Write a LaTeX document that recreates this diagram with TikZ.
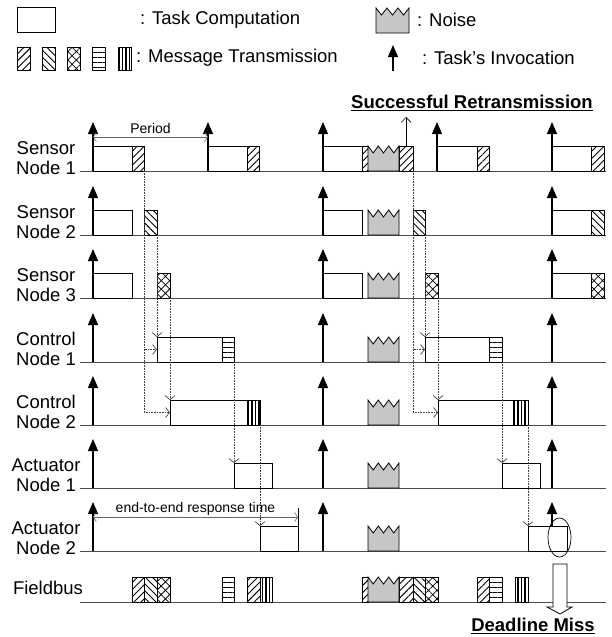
\documentclass[tikz,border=0pt]{standalone}
\usepackage{fontspec}
\setmainfont{Liberation Sans}
\usetikzlibrary{arrows.meta,patterns.meta}

\begin{document}
\begin{tikzpicture}[x=1pt, y=-1pt,
  every node/.style={font=\fontsize{18.5}{20}\selectfont},
  smalltext/.style={font=\fontsize{14}{16}\selectfont},
  axis/.style={draw=black!70, line width=0.9pt},
  tbox/.style={draw, line width=0.8pt, fill=white, inner sep=0pt, outer sep=0pt, anchor=south west, minimum height=25pt, minimum width=#1},
  hatchA/.style={pattern={Lines[angle=45,distance=5pt,line width=0.9pt]}},
  hatchB/.style={pattern={Lines[angle=-45,distance=5pt,line width=0.9pt]}},
  hatchC/.style={pattern={Hatch[angle=45,distance=6pt,line width=0.8pt]}},
  hatchD/.style={pattern={Lines[angle=0,distance=5pt,line width=0.9pt]}},
  hatchE/.style={pattern={Lines[angle=90,distance=3.5pt,line width=1.1pt]}},
  noise/.style={draw, line width=0.8pt, fill=gray!45},
  invoke/.style={-{Triangle[length=12pt,width=10pt]}, line width=1.2pt},
  flow/.style={densely dotted, draw=black!75, line width=0.6pt, -{Straight Barb[length=4pt,width=10pt,line width=0.7pt]}},
  span/.style={draw=black!60, line width=0.6pt, {Straight Barb[length=3pt,width=9pt]}-{Straight Barb[length=3pt,width=9pt]}}]
  \useasboundingbox (0,0) rectangle (612,637);

  % legend
  \node[tbox=38pt] (leg-task) at (17,32) {};
  \node[anchor=west, inner sep=0pt] (leg-task-txt) at (140,20) {: Task Computation};
  \draw[noise] (376,33) -- (376,8) -- (381.5,15) -- (387,8) -- (392.5,15) -- (398,8) -- (403.5,15) -- (409,8) -- (409,33) -- cycle;
  \node[anchor=west, inner sep=0pt] (leg-noise-txt) at (417,20) {: Noise};
  \foreach \x/\st [count=\i] in {17/hatchA, 42/hatchB, 67/hatchC, 92/hatchD, 118/hatchE}
    \node[tbox=13pt, minimum height=23pt, \st] (leg-m\i) at (\x,70) {};
  \node[anchor=west, inner sep=0pt] (leg-msg-txt) at (136,58) {: Message Transmission};
  \coordinate (leg-inv-a) at (393,71);
  \coordinate (leg-inv-b) at (393,45);
  \draw[invoke] (leg-inv-a) -- (leg-inv-b);
  \node[anchor=west, inner sep=0pt] (leg-inv-txt) at (422,58) {: Task's Invocation};

  % time lines
  \foreach \nm/\y/\lbl in {s1/171/Sensor\\Node 1, s2/235/Sensor\\Node 2, s3/298/Sensor\\Node 3,
      c1/362/Control\\Node 1, c2/425/Control\\Node 2, a1/488/Actuator\\Node 1, a2/551/Actuator\\Node 2}{
    \draw[axis] (80,\y) -- (606,\y);
    \node[align=center] (lbl-\nm) at (46,\y-13) {\lbl};
    \foreach \x in {93,323,552}
      \draw[invoke] (\x,\y) -- (\x,\y-49);
  }
  \foreach \x in {208,437}
    \draw[invoke] (\x,171) -- (\x,122);
  \draw[axis] (80,602) -- (606,602);
  \node (lbl-fb) at (48,588) {Fieldbus};

  % tasks
  \foreach \nm/\x/\y/\w in {s1t1/93/171/39, s1t2/208/171/39, s1t3/323/171/39, s1t4/437/171/40, s1t5/552/171/39,
      s2t1/93/235/39, s2t3/323/235/39, s2t5/552/235/39, s3t1/93/298/39, s3t3/323/298/39, s3t5/552/298/39,
      c1t1/157/362/65, c1t3/425/362/64, c2t1/170/425/77, c2t3/438/425/75,
      a1t1/234/488/38, a1t3/502/488/38, a2t1/260/551/38, a2t3/528/551/39}
    \node[tbox=\w pt] (\nm) at (\x,\y) {};

  % messages
  \foreach \nm/\x/\y/\w/\st in {s1m1/132/171/12/hatchA, s1m2/247/171/12/hatchA, s1m3/362/171/6/hatchA,
      s1m4/399/171/14/hatchA, s1m5/477/171/12/hatchA, s1m6/591/171/13/hatchA,
      s2m1/144/235/13/hatchB, s2m4/413/235/12/hatchB, s2m6/591/235/13/hatchB,
      s3m1/157/298/13/hatchC, s3m4/425/298/13/hatchC, s3m6/591/298/13/hatchC,
      c1m1/222/362/12/hatchD, c1m4/489/362/13/hatchD, c2m1/247/425/13/hatchE, c2m4/513/425/15/hatchE,
      fb1/132/602/12/hatchA, fb2/144/602/13/hatchB, fb3/157/602/13/hatchC, fb4/222/602/12/hatchD,
      fb5/247/602/13/hatchA, fb6/260/602/12/hatchE, fb7/362/602/6/hatchA, fb8/399/602/14/hatchA,
      fb9/413/602/12/hatchB, fb10/425/602/13/hatchC, fb11/477/602/12/hatchA, fb12/489/602/13/hatchD,
      fb13/515/602/13/hatchE}
    \node[tbox=\w pt, \st] (\nm) at (\x,\y) {};

  % noise
  \foreach \y in {171,235,298,362,425,488,551,602}
    \draw[noise] (368,\y) -- (368,\y-25) -- (373.2,\y-18) -- (378.3,\y-25) -- (383.5,\y-18)
      -- (388.7,\y-25) -- (393.8,\y-18) -- (399,\y-25) -- (399,\y) -- cycle;

  % message flow
  \draw[flow] (s1m1.south east) |- (c1t1.west);
  \draw[flow] (s1m1.south east) |- (c2t1.west);
  \draw[flow] (s2m1.south east) -- (c1t1.north west);
  \draw[flow] (s3m1.south east) -- (c2t1.north west);
  \draw[flow] (c1m1.south east) -- (a1t1.north west);
  \draw[flow] (c2m1.south east) -- (a2t1.north west);
  \draw[flow] (s1m4.south east) |- (c1t3.west);
  \draw[flow] (s1m4.south east) |- (c2t3.west);
  \draw[flow] (s2m4.south east) -- (c1t3.north west);
  \draw[flow] (s3m4.south east) -- (c2t3.north west);
  \draw[flow] (c1m4.south east) -- (a1t3.north west);
  \draw[flow] (c2m4.south east) -- (a2t3.north west);

  % period and response time
  \coordinate (per-a) at (93,137);
  \coordinate (per-b) at (208,137);
  \draw[span] (per-a) -- node[above, smalltext] {Period} (per-b);
  \coordinate (e2e-a) at (93,517);
  \coordinate (e2e-b) at (298,517);
  \draw[span] (e2e-a) -- node[above, smalltext, inner sep=1pt] {end-to-end response time} (e2e-b);
  \draw[line width=0.8pt] (a2t1.north east) -- ++(0,-18);

  % retransmission and deadline miss
  \node (retx) at (472,103) {\bfseries\underline{Successful Retransmission}};
  \coordinate (retx-tip) at (406,117);
  \draw[line width=0.7pt, -{Straight Barb[length=5pt,width=10pt]}] (s1m4.north) -- (retx-tip);
  \draw[line width=0.7pt] (559.5,537.5) ellipse [x radius=11.5, y radius=19.5];
  \draw[fill=white, line width=0.8pt] (553,564) -- (567,564) -- (567,607) -- (572,607) -- (560,614)
    -- (547,607) -- (553,607) -- cycle;
  \node (miss) at (533,626) {\bfseries\underline{Deadline Miss}};
\end{tikzpicture}
\end{document}
